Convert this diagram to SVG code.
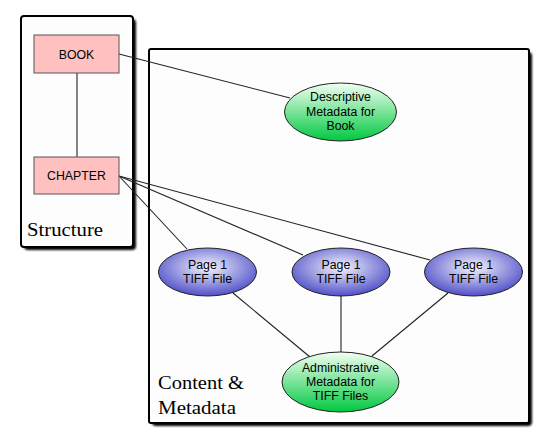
<svg xmlns="http://www.w3.org/2000/svg" width="550" height="448" viewBox="0 0 550 448">
<defs>
<filter id="sh" x="-10%" y="-10%" width="130%" height="130%"><feGaussianBlur stdDeviation="1"/></filter>
<linearGradient id="green" x1="0" y1="0" x2="0" y2="1">
<stop offset="0" stop-color="#f2fff2"/><stop offset="1" stop-color="#00c840"/>
</linearGradient>
<radialGradient id="blue" cx="0.5" cy="0.4" r="0.6">
<stop offset="0" stop-color="#f4f4ff"/><stop offset="1" stop-color="#5050c8"/>
</radialGradient>
<style>
.panel{fill:#fdfdfd;stroke:#000;stroke-width:2}
.shadow{fill:#000;filter:url(#sh)}
.rect{fill:#ffc0c0;stroke:#555;stroke-width:1}
.ell{stroke:#222;stroke-width:1}
.lbl{font-family:"Liberation Sans",Arial,sans-serif;font-size:12.3px;fill:#000;text-anchor:middle}
.title{font-family:"Liberation Serif","Times New Roman",serif;font-size:19px;fill:#000}
.conn line{stroke:#222;stroke-width:1.1}
</style>
</defs>
<rect width="550" height="448" fill="#fff"/>
<g id="structure">
<rect class="shadow" x="24" y="19" width="112" height="231" rx="4"/>
<rect class="panel" x="21" y="16" width="112" height="231" rx="3"/>
<text class="title" x="27" y="236" textLength="76" lengthAdjust="spacingAndGlyphs">Structure</text>
</g>
<g id="content">
<rect class="shadow" x="152" y="52" width="380" height="374" rx="4"/>
<rect class="panel" x="149" y="49" width="380" height="374" rx="2"/>
<text class="title" x="158" y="389" textLength="86" lengthAdjust="spacingAndGlyphs">Content &amp;</text>
<text class="title" x="158" y="414" textLength="78" lengthAdjust="spacingAndGlyphs">Metadata</text>
</g>
<g class="conn" id="connectors">
<line x1="77" y1="73" x2="77" y2="157"/>
<line x1="119" y1="54" x2="290" y2="98"/>
<line x1="119" y1="176" x2="187" y2="249"/>
<line x1="119" y1="176" x2="303" y2="255"/>
<line x1="119" y1="176" x2="430" y2="260"/>
<line x1="233" y1="293" x2="310" y2="357"/>
<line x1="341" y1="296" x2="341" y2="352"/>
<line x1="448" y1="293" x2="372" y2="356"/>
</g>
<g id="book">
<rect class="rect" x="34" y="35" width="85" height="38"/>
<text class="lbl" x="76.5" y="58.5">BOOK</text>
</g>
<g id="chapter">
<rect class="rect" x="34" y="157" width="85" height="37"/>
<text class="lbl" x="76.5" y="180">CHAPTER</text>
</g>
<g id="descriptive">
<ellipse class="ell" cx="340.5" cy="112" rx="56" ry="29" fill="url(#green)"/>
<text class="lbl" x="340.5" y="101">Descriptive</text>
<text class="lbl" x="340.5" y="115.5">Metadata for</text>
<text class="lbl" x="340.5" y="130">Book</text>
</g>
<g id="page1">
<ellipse class="ell" cx="207.5" cy="272" rx="49" ry="24" fill="url(#blue)"/>
<text class="lbl" x="207.5" y="268.5">Page 1</text>
<text class="lbl" x="207.5" y="283">TIFF File</text>
</g>
<g id="page2">
<ellipse class="ell" cx="341" cy="272" rx="49" ry="24" fill="url(#blue)"/>
<text class="lbl" x="341" y="268.5">Page 1</text>
<text class="lbl" x="341" y="283">TIFF File</text>
</g>
<g id="page3">
<ellipse class="ell" cx="473.5" cy="272" rx="49" ry="24" fill="url(#blue)"/>
<text class="lbl" x="473.5" y="268.5">Page 1</text>
<text class="lbl" x="473.5" y="283">TIFF File</text>
</g>
<g id="administrative">
<ellipse class="ell" cx="340.5" cy="382" rx="58.5" ry="30" fill="url(#green)"/>
<text class="lbl" x="340.5" y="371.5">Administrative</text>
<text class="lbl" x="340.5" y="386">Metadata for</text>
<text class="lbl" x="340.5" y="400">TIFF Files</text>
</g>
</svg>
